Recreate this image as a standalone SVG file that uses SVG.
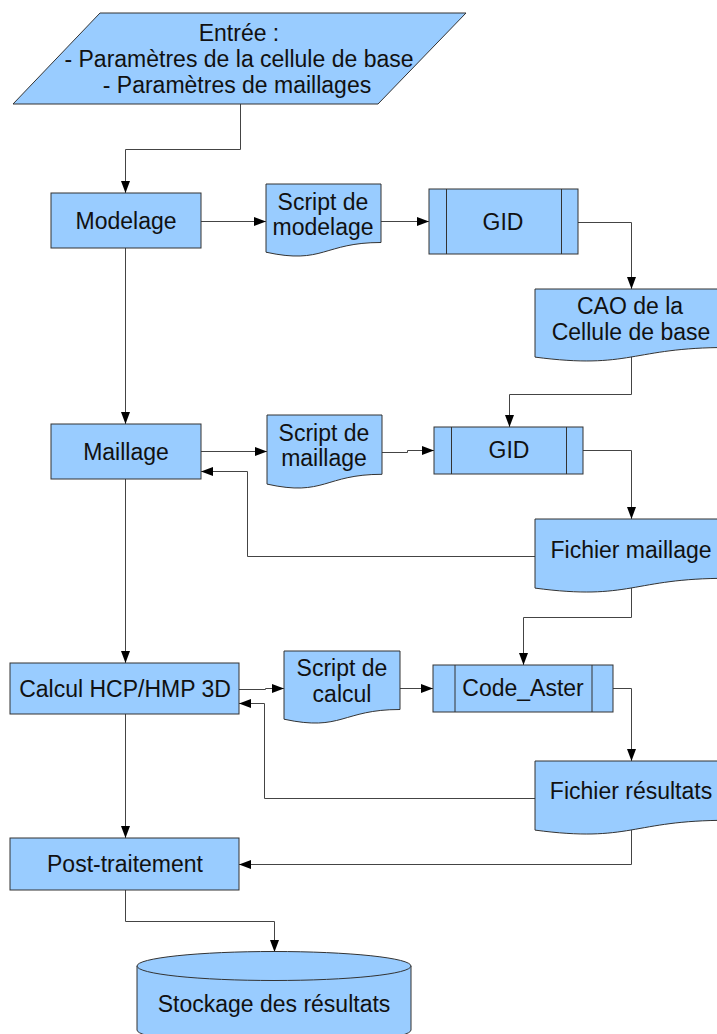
<svg xmlns="http://www.w3.org/2000/svg" width="717" height="1034" viewBox="0 0 717 1034">
<style>
.s{fill:#99ccff;stroke:#333;stroke-width:1}
.t{font-family:"Liberation Sans",Arial,sans-serif;font-size:23px;fill:#111;text-anchor:middle}
.c{fill:none;stroke:#444;stroke-width:1}
.a{marker-end:url(#ah)}
</style>
<defs>
<marker id="ah" viewBox="0 0 12 9" refX="12" refY="4.5" markerWidth="12" markerHeight="9" orient="auto" markerUnits="userSpaceOnUse"><path d="M0,0 L12,4.5 L0,9 Z" fill="#000"/></marker>
</defs>
<rect width="717" height="1034" fill="#fff"/>
<g id="connectors">
<path class="c a" d="M240.5,104 V149.5 H125.5 V193"/>
<path class="c a" d="M201,221.5 H266"/>
<path class="c a" d="M381,221.5 H429"/>
<path class="c a" d="M578,222.5 H631.5 V289"/>
<path class="c a" d="M125.5,248 V424"/>
<path class="c a" d="M631.5,352 V394.5 H509.5 V427"/>
<path class="c a" d="M201,451.5 H267"/>
<path class="c a" d="M382,452.5 H407.5 V450.5 H434"/>
<path class="c a" d="M583,450.5 H631.5 V519"/>
<path class="c a" d="M535,556.5 H247.5 V471.5 H201"/>
<path class="c a" d="M125.5,479 V663"/>
<path class="c a" d="M631.5,588 V617.5 H523.5 V665"/>
<path class="c a" d="M239,689.5 H265.5 V688.5 H284"/>
<path class="c a" d="M400,688.5 H433"/>
<path class="c a" d="M613,688.5 H631.5 V761"/>
<path class="c a" d="M535,798.5 H264.5 V703.5 H239"/>
<path class="c a" d="M125.5,714 V838"/>
<path class="c a" d="M631.5,830 V864.5 H239"/>
<path class="c a" d="M125.5,890 V921.5 H274.5 V952"/>
</g>
<g id="entree">
<polygon class="s" points="100,13 466,13 378,104 13,104"/>
<text class="t" x="239" y="41">Entrée :</text>
<text class="t" x="239" y="67">- Paramètres de la cellule de base</text>
<text class="t" x="237" y="93">- Paramètres de maillages</text>
</g>
<g id="modelage">
<rect class="s" x="51" y="193" width="150" height="55"/>
<text class="t" x="126" y="229">Modelage</text>
</g>
<g id="script-modelage">
<path class="s" d="M266,184 H381 V242.5 C323.5,242.5 323.5,264.8 266,252.2 Z"/>
<text class="t" x="323" y="210">Script de</text>
<text class="t" x="323" y="235">modelage</text>
</g>
<g id="gid1">
<rect class="s" x="429" y="189" width="149" height="65"/>
<line class="s" x1="446.5" y1="189" x2="446.5" y2="254"/>
<line class="s" x1="561.5" y1="189" x2="561.5" y2="254"/>
<text class="t" x="503" y="230">GID</text>
</g>
<g id="cao">
<path class="s" d="M535,289 H727 V347.5 C631,347.5 631,369.7 535,357.1 Z"/>
<text class="t" x="630" y="314">CAO de la</text>
<text class="t" x="631" y="340">Cellule de base</text>
</g>
<g id="maillage">
<rect class="s" x="51" y="424" width="150" height="55"/>
<text class="t" x="126" y="460">Maillage</text>
</g>
<g id="script-maillage">
<path class="s" d="M267,415 H382 V474.3 C324.5,474.3 324.5,496.9 267,484.1 Z"/>
<text class="t" x="324" y="441">Script de</text>
<text class="t" x="324" y="466">maillage</text>
</g>
<g id="gid2">
<rect class="s" x="434" y="427" width="149" height="47"/>
<line class="s" x1="451.5" y1="427" x2="451.5" y2="474"/>
<line class="s" x1="566.5" y1="427" x2="566.5" y2="474"/>
<text class="t" x="509" y="458">GID</text>
</g>
<g id="fichier-maillage">
<path class="s" d="M535,519 H727 V578.3 C631,578.3 631,600.9 535,588.1 Z"/>
<text class="t" x="631" y="558">Fichier maillage</text>
</g>
<g id="calcul">
<rect class="s" x="10" y="663" width="229" height="51"/>
<text class="t" x="125" y="697">Calcul HCP/HMP 3D</text>
</g>
<g id="script-calcul">
<path class="s" d="M284,651 H400 V709.5 C342,709.5 342,731.8 284,719.2 Z"/>
<text class="t" x="342" y="676">Script de</text>
<text class="t" x="342" y="702">calcul</text>
</g>
<g id="code-aster">
<rect class="s" x="433" y="665" width="180" height="47"/>
<line class="s" x1="455" y1="665" x2="455" y2="712"/>
<line class="s" x1="592" y1="665" x2="592" y2="712"/>
<text class="t" x="523" y="696">Code_Aster</text>
</g>
<g id="fichier-resultats">
<path class="s" d="M535,761 H727 V820.3 C631,820.3 631,842.9 535,830.1 Z"/>
<text class="t" x="631" y="799">Fichier résultats</text>
</g>
<g id="post-traitement">
<rect class="s" x="10" y="838" width="229" height="52"/>
<text class="t" x="125" y="872">Post-traitement</text>
</g>
<g id="stockage">
<path class="s" d="M137,966 V1030 A137,14.5 0 0 0 411,1030 V966 Z"/>
<ellipse class="s" cx="274" cy="966" rx="137" ry="14.5"/>
<text class="t" x="274" y="1012">Stockage des résultats</text>
</g>
</svg>
